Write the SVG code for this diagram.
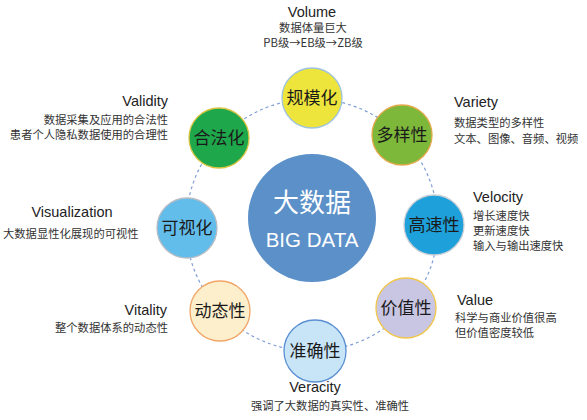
<svg xmlns="http://www.w3.org/2000/svg" width="587" height="420" viewBox="0 0 587 420">
<style>
text{font-family:"Liberation Sans","Noto Sans CJK SC",sans-serif}
.t{font-size:14.5px;fill:#222}
.d{font-size:11.3px;fill:#333;font-family:"Noto Sans CJK SC",sans-serif}
.n{font-size:17px;fill:#1a1a1a;text-anchor:middle;font-family:"Noto Sans CJK SC",sans-serif}
.ring{fill:none;stroke:#7F9FD6;stroke-width:1.2;stroke-dasharray:3 3}
.node{stroke-width:1.3}
</style>
<rect width="587" height="420" fill="#fff"/>
<g id="connectors">
<circle class="ring" cx="312" cy="225" r="126"/>
</g>
<g id="center">
<circle cx="312" cy="218" r="64" fill="#5B90C8"/>
<text x="312" y="212" font-size="26" fill="#fff" text-anchor="middle" font-family="Noto Sans CJK SC,sans-serif">大数据</text>
<text x="312" y="247" font-size="20.5" fill="#fff" text-anchor="middle">BIG DATA</text>
</g>
<g id="volume">
<circle class="node" cx="312" cy="98" r="30" fill="#EDE53B" stroke="#9EC3DE"/>
<text class="n" x="312" y="104">规模化</text>
<text class="t" x="312" y="17" text-anchor="middle">Volume</text>
<text class="d" x="313" y="32" text-anchor="middle">数据体量巨大</text>
<text class="d" x="313" y="47" text-anchor="middle">PB级→EB级→ZB级</text>
</g>
<g id="variety">
<circle class="node" cx="402" cy="135" r="30" fill="#7DB83B" stroke="#E2A94A"/>
<text class="n" x="402" y="141">多样性</text>
<text class="t" x="454" y="107">Variety</text>
<text class="d" x="454" y="127">数据类型的多样性</text>
<text class="d" x="454" y="143">文本、图像、音频、视频</text>
</g>
<g id="velocity">
<circle class="node" cx="434" cy="225" r="30" fill="#1EA1DB" stroke="#C9CFD6"/>
<text class="n" x="434" y="231">高速性</text>
<text class="t" x="473" y="202">Velocity</text>
<text class="d" x="473" y="220">增长速度快</text>
<text class="d" x="473" y="235">更新速度快</text>
<text class="d" x="473" y="250">输入与输出速度快</text>
</g>
<g id="value">
<circle class="node" cx="406" cy="308" r="30" fill="#C9C6E3" stroke="#F2C64A"/>
<text class="n" x="406" y="314">价值性</text>
<text class="t" x="457" y="305">Value</text>
<text class="d" x="455" y="322">科学与商业价值很高</text>
<text class="d" x="455" y="337">但价值密度较低</text>
</g>
<g id="veracity">
<circle class="node" cx="315" cy="351" r="31" fill="#C8E5F8" stroke="#5A8FD2"/>
<text class="n" x="315" y="357">准确性</text>
<text class="t" x="315" y="392" text-anchor="middle">Veracity</text>
<text class="d" x="330" y="410" text-anchor="middle">强调了大数据的真实性、准确性</text>
</g>
<g id="vitality">
<circle class="node" cx="220" cy="311" r="30" fill="#FDEFCB" stroke="#F1A566"/>
<text class="n" x="220" y="317">动态性</text>
<text class="t" x="167" y="315" text-anchor="end">Vitality</text>
<text class="d" x="168" y="332" text-anchor="end">整个数据体系的动态性</text>
</g>
<g id="visualization">
<circle class="node" cx="187" cy="228" r="30" fill="#63BDEB" stroke="#B5BCC4"/>
<text class="n" x="187" y="234">可视化</text>
<text class="t" x="72" y="217" text-anchor="middle">Visualization</text>
<text class="d" x="3" y="238">大数据显性化展现的可视性</text>
</g>
<g id="validity">
<circle class="node" cx="219" cy="138" r="30" fill="#1FA84B" stroke="#D9C443"/>
<text class="n" x="219" y="144">合法化</text>
<text class="t" x="168" y="106" text-anchor="end">Validity</text>
<text class="d" x="168" y="124" text-anchor="end">数据采集及应用的合法性</text>
<text class="d" x="168" y="139" text-anchor="end">患者个人隐私数据使用的合理性</text>
</g>
</svg>
